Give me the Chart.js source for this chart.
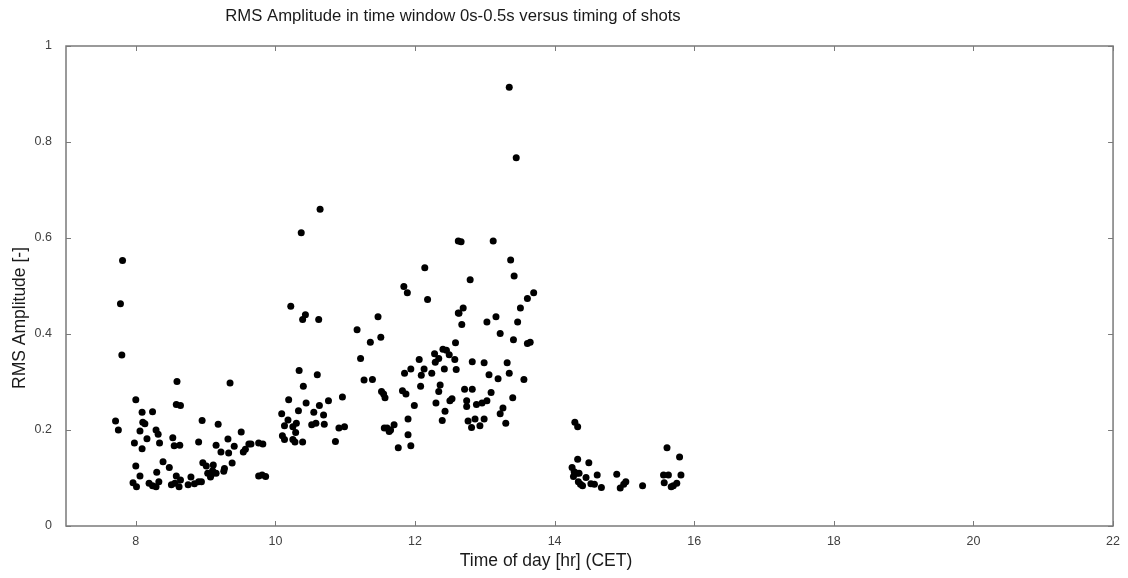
<!DOCTYPE html>
<html>
<head>
<meta charset="utf-8">
<script src="https://cdn.jsdelivr.net/npm/chart.js@4"></script>
<style>
  html, body { margin: 0; padding: 0; background: #fff; }
  #wrap { width: 1128px; height: 578px; position: relative; }
</style>
</head>
<body>
<div id="wrap"><canvas id="rmsChart"></canvas></div>
<script>
// time of day [hr] for each shot
var shotTimes = [
  7.71, 7.75, 7.81, 7.78, 7.80, 8.00, 7.98, 8.00, 7.96, 8.01, 8.06, 8.09, 8.10, 8.13, 8.06, 8.09,
  8.16, 8.24, 8.29, 8.32, 8.34, 8.30, 8.19, 8.24, 8.29, 8.33, 8.39, 8.48, 8.53, 8.55, 8.59, 8.58,
  8.64, 8.63, 8.58, 8.51, 8.56, 8.62, 8.64, 8.75, 8.79, 8.84, 8.90, 8.94, 8.90, 8.95, 8.96, 9.01,
  9.03, 9.07, 9.11, 9.10, 9.08, 9.15, 9.18, 9.15, 9.22, 9.26, 9.27, 9.32, 9.33, 9.35, 9.38, 9.41,
  9.51, 9.54, 9.57, 9.62, 9.65, 9.76, 9.82, 9.76, 9.81, 9.86,
  10.64, 10.37, 10.22, 10.39, 10.43, 10.62, 10.34, 10.60, 10.40, 10.19, 10.44, 10.09, 10.18, 10.13,
  10.25, 10.30, 10.33, 10.29, 10.10, 10.13, 10.25, 10.28, 10.39, 10.55, 10.52, 10.58, 10.63, 10.69,
  10.70, 10.76, 10.86, 10.91, 10.99, 10.96,
  11.17, 11.22, 11.27, 11.39, 11.36, 11.47, 11.51, 11.52, 11.55, 11.57, 11.56, 11.60, 11.63, 11.65,
  11.70, 11.76, 11.84, 11.89, 11.82, 11.87, 11.85, 11.94, 11.99, 11.90, 11.90, 11.94,
  12.14, 12.18, 12.06, 12.09, 12.13, 12.08, 12.24, 12.28, 12.29, 12.34, 12.40, 12.45, 12.49, 12.58,
  12.62, 12.42, 12.57, 12.59, 12.36, 12.34, 12.30, 12.39, 12.43, 12.50, 12.53, 12.62,
  13.35, 13.45, 12.66, 13.12, 13.37, 13.42, 12.79, 13.70, 13.61, 13.51, 12.69, 12.63, 12.67, 13.16,
  13.03, 13.47, 13.22, 13.41, 13.61, 13.65, 12.82, 12.99, 13.32, 13.35, 13.06, 13.19, 13.56, 12.71,
  12.82, 13.09, 12.74, 12.74, 12.88, 12.96, 13.03, 13.40, 13.26, 13.22, 13.30, 12.76, 12.86, 12.99,
  12.81, 12.93,
  14.29, 14.33, 14.33, 14.49, 14.25, 14.28, 14.32, 14.27, 14.35, 14.45, 14.61, 14.34, 14.37, 14.40,
  14.52, 14.57, 14.67, 14.89, 15.02, 14.99, 14.94, 15.26, 15.61, 15.79, 15.56, 15.63, 15.81, 15.57,
  15.67, 15.70, 15.75
];

// RMS amplitude in time window 0s-0.5s
var rmsValues = [
  0.219, 0.200, 0.553, 0.463, 0.356, 0.263, 0.173, 0.125, 0.090, 0.082, 0.104, 0.237, 0.216, 0.213, 0.198, 0.161,
  0.182, 0.238, 0.200, 0.191, 0.173, 0.112, 0.089, 0.084, 0.082, 0.092, 0.134, 0.122, 0.184, 0.167, 0.301, 0.253,
  0.251, 0.168, 0.104, 0.086, 0.089, 0.082, 0.096, 0.086, 0.102, 0.088, 0.092, 0.092, 0.175, 0.220, 0.132, 0.125,
  0.110, 0.102, 0.127, 0.115, 0.106, 0.110, 0.212, 0.168, 0.154, 0.114, 0.120, 0.181, 0.152, 0.298, 0.131, 0.166,
  0.196, 0.154, 0.160, 0.171, 0.171, 0.173, 0.171, 0.104, 0.106, 0.103,
  0.660, 0.611, 0.458, 0.430, 0.440, 0.430, 0.324, 0.315, 0.291, 0.263, 0.256, 0.234, 0.221, 0.209,
  0.207, 0.214, 0.240, 0.195, 0.188, 0.180, 0.180, 0.175, 0.175, 0.237, 0.211, 0.214, 0.251, 0.231,
  0.212, 0.261, 0.176, 0.204, 0.207, 0.269,
  0.409, 0.349, 0.304, 0.305, 0.383, 0.436, 0.393, 0.280, 0.275, 0.267, 0.204, 0.204, 0.197, 0.200,
  0.211, 0.163, 0.499, 0.486, 0.282, 0.275, 0.318, 0.327, 0.251, 0.223, 0.190, 0.167,
  0.538, 0.472, 0.347, 0.314, 0.327, 0.291, 0.318, 0.359, 0.341, 0.349, 0.368, 0.366, 0.357, 0.382,
  0.444, 0.327, 0.347, 0.326, 0.294, 0.280, 0.256, 0.220, 0.239, 0.261, 0.265, 0.594,
  0.914, 0.767, 0.592, 0.594, 0.554, 0.521, 0.513, 0.486, 0.474, 0.454, 0.454, 0.443, 0.420, 0.436,
  0.425, 0.425, 0.401, 0.388, 0.380, 0.383, 0.342, 0.340, 0.340, 0.318, 0.315, 0.307, 0.305, 0.285,
  0.285, 0.278, 0.261, 0.249, 0.253, 0.256, 0.261, 0.267, 0.246, 0.234, 0.214, 0.219, 0.223, 0.223,
  0.205, 0.209,
  0.216, 0.207, 0.139, 0.132, 0.122, 0.113, 0.110, 0.103, 0.110, 0.101, 0.106, 0.092, 0.087, 0.084,
  0.088, 0.087, 0.080, 0.108, 0.092, 0.087, 0.079, 0.084, 0.163, 0.144, 0.106, 0.106, 0.106, 0.090,
  0.082, 0.084, 0.089
];

var xTicks = [8, 10, 12, 14, 16, 18, 20, 22];
var yTicks = [0, 0.2, 0.4, 0.6, 0.8, 1];

var chartTitle = 'RMS Amplitude in time window 0s-0.5s versus timing of shots';
var xTitle = 'Time of day [hr] (CET)';
var yTitle = 'RMS Amplitude [-]';

var points = shotTimes.map(function (t, i) {
  return { x: t, y: rmsValues[i] };
});

var axisGray = '#7a7a7a';
var font = 'Liberation Sans, Arial, sans-serif';

// frame round the plot, inward tick marks, title and axis titles
var framePlugin = {
  id: 'frame',
  afterDraw: function (chart) {
    var c = chart.ctx;
    var a = chart.chartArea;
    var xs = chart.scales.x;
    var ys = chart.scales.y;
    c.save();
    c.strokeStyle = axisGray;
    c.lineWidth = 1.5;
    c.strokeRect(a.left, a.top, a.right - a.left, a.bottom - a.top);
    c.lineWidth = 1;
    c.beginPath();
    xTicks.forEach(function (v) {
      var px = Math.round(xs.getPixelForValue(v)) + 0.5;
      c.moveTo(px, a.bottom); c.lineTo(px, a.bottom - 5);
      c.moveTo(px, a.top); c.lineTo(px, a.top + 5);
    });
    yTicks.forEach(function (v) {
      var py = Math.round(ys.getPixelForValue(v)) + 0.5;
      c.moveTo(a.left, py); c.lineTo(a.left + 5, py);
      c.moveTo(a.right, py); c.lineTo(a.right - 5, py);
    });
    c.stroke();

    c.fillStyle = '#1a1a1a';
    c.textAlign = 'center';
    c.textBaseline = 'middle';
    c.font = '16.7px ' + font;
    c.fillText(chartTitle, 453, 16);
    c.font = '17.5px ' + font;
    c.fillText(xTitle, 546, 561);
    c.translate(20, 318);
    c.rotate(-Math.PI / 2);
    c.fillText(yTitle, 0, 0);
    c.restore();
  }
};

new Chart(document.getElementById('rmsChart'), {
  type: 'scatter',
  data: {
    datasets: [{
      data: points,
      backgroundColor: '#000',
      borderColor: '#000',
      pointRadius: 3.5,
      pointHoverRadius: 3.5,
      borderWidth: 0
    }]
  },
  options: {
    responsive: true,
    maintainAspectRatio: false,
    animation: false,
    layout: { padding: { left: 0, right: 12, top: 46, bottom: 0 } },
    plugins: {
      legend: { display: false },
      tooltip: { enabled: false }
    },
    scales: {
      x: {
        type: 'linear',
        min: 7,
        max: 22,
        afterBuildTicks: function (scale) {
          scale.ticks = xTicks.map(function (v) { return { value: v }; });
        },
        afterFit: function (scale) { scale.height = 52; },
        grid: { display: false, drawTicks: false },
        border: { display: false },
        ticks: { color: '#404040', padding: 8, font: { size: 12.5, family: font }, maxRotation: 0 }
      },
      y: {
        min: 0,
        max: 1,
        afterBuildTicks: function (scale) {
          scale.ticks = yTicks.map(function (v) { return { value: v }; });
        },
        afterFit: function (scale) { scale.width = 66; },
        grid: { display: false, drawTicks: false },
        border: { display: false },
        ticks: {
          color: '#404040',
          padding: 14,
          font: { size: 12.5, family: font },
          callback: function (v) { return String(v); }
        }
      }
    }
  },
  plugins: [framePlugin]
});
</script>
</body>
</html>
